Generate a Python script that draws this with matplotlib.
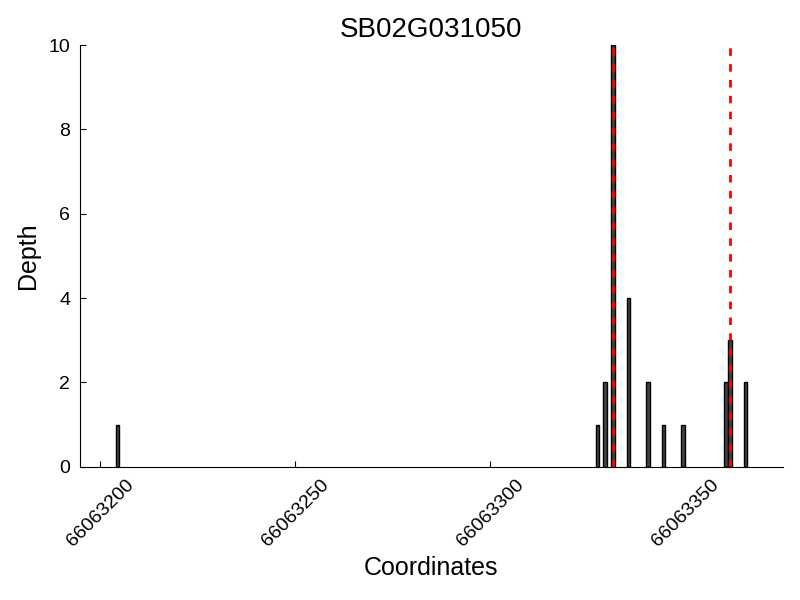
import matplotlib
matplotlib.use("Agg")
import matplotlib.pyplot as plt
from matplotlib.ticker import ScalarFormatter

plt.rcParams["font.family"] = ["Liberation Sans", "DejaVu Sans"]

gene = "SB02G031050"
positions = [66063204, 66063327, 66063329, 66063331, 66063335, 66063340,
             66063344, 66063349, 66063360, 66063361, 66063365]
depths = [1, 1, 2, 10, 4, 2, 1, 1, 2, 3, 2]
marked_sites = [66063331, 66063361]
x_ticks = [66063200, 66063250, 66063300, 66063350]
x_range = (66063194.8, 66063375)
y_range = (0, 10)

bar_width = 0.9

fig = plt.figure(figsize=(8, 6), dpi=100)
ax = fig.add_axes([0.1, 0.222, 0.8784, 0.703])

ax.bar(positions, depths, width=bar_width, align="edge",
       color="#444444", edgecolor="black", linewidth=1)
for site in marked_sites:
    ax.axvline(site + bar_width / 2, color="red", linestyle="--",
               linewidth=2, dashes=(2.7, 3.0))

ax.set_xlim(*x_range)
ax.set_ylim(*y_range)
ax.set_xticks(x_ticks)
fmt = ScalarFormatter(useOffset=False)
fmt.set_scientific(False)
ax.xaxis.set_major_formatter(fmt)
ax.tick_params(direction="in", labelsize=14, length=4, pad=7)
plt.setp(ax.get_xticklabels(), rotation=45)
ax.spines["top"].set_visible(False)
ax.spines["right"].set_visible(False)
ax.xaxis.set_ticks_position("bottom")
ax.yaxis.set_ticks_position("left")

ax.set_title(gene, fontsize=20)
ax.set_xlabel("Coordinates", fontsize=18)
ax.set_ylabel("Depth", fontsize=18, labelpad=6)

fig.savefig("out.png", dpi=100)
